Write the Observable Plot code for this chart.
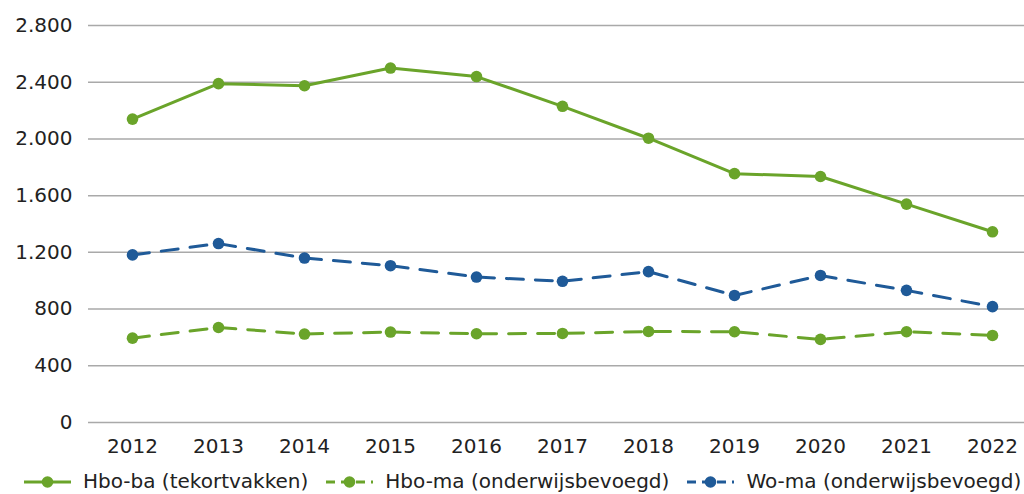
<!DOCTYPE html>
<html>
<head>
<meta charset="utf-8">
<script src="https://cdn.jsdelivr.net/npm/d3@7"></script>
<script src="https://cdn.jsdelivr.net/npm/@observablehq/plot@0.6"></script>
<style>
  body { margin: 0; background: #fff; font-family: "DejaVu Sans", Verdana, sans-serif; }
  #wrap { position: relative; width: 1024px; height: 494px; }
  #legend { position: absolute; left: 24px; top: 469px; display: flex; align-items: center; font-size: 20px; line-height: 24px; color: #222; white-space: nowrap; }
  .item { display: flex; align-items: center; margin-right: 18px; }
  .item svg { margin-right: 12px; }
</style>
</head>
<body>
<div id="wrap">
  <div id="chart"></div>
  <div id="legend"></div>
</div>
<script>
const years = ["2012","2013","2014","2015","2016","2017","2018","2019","2020","2021","2022"];
const hboBa = [2140, 2390, 2375, 2500, 2440, 2230, 2005, 1755, 1735, 1540, 1345];
const hboMa = [595, 670, 624, 638, 626, 628, 642, 640, 586, 640, 614];
const woMa  = [1182, 1262, 1160, 1106, 1026, 996, 1064, 896, 1037, 932, 817];
const seriesNames = ["Hbo-ba (tekortvakken)", "Hbo-ma (onderwijsbevoegd)", "Wo-ma (onderwijsbevoegd)"];
const yTicks = [0, 400, 800, 1200, 1600, 2000, 2400, 2800];

const green = "#6aa42a";
const blue = "#1f5a98";
const styles = [
  {stroke: green, dash: null},
  {stroke: green, dash: "17,12"},
  {stroke: blue, dash: "17,12"}
];

const seriesValues = [hboBa, hboMa, woMa];
const tables = seriesValues.map((vals, i) => years.map((y, j) => ({year: y, value: vals[j], series: seriesNames[i]})));

const nl = d3.formatLocale({decimal: ",", thousands: ".", grouping: [3], currency: ["€", ""]});
const fmt = nl.format(",d");

const marks = [
  Plot.ruleY(yTicks, {stroke: "#a9a9a9", strokeWidth: 1.5})
];
[2, 1, 0].forEach(i => {
  marks.push(Plot.line(tables[i], {x: "year", y: "value", stroke: styles[i].stroke, strokeWidth: 3, strokeDasharray: styles[i].dash, strokeLinejoin: "round"}));
  marks.push(Plot.dot(tables[i], {x: "year", y: "value", fill: styles[i].stroke, r: 5.8}));
});

const chart = Plot.plot({
  width: 1024,
  height: 462,
  marginTop: 25,
  marginBottom: 40,
  marginLeft: 88,
  marginRight: 0,
  style: {fontFamily: "'DejaVu Sans', Verdana, sans-serif", fontSize: "20px", color: "#222", background: "#fff"},
  x: {type: "point", domain: years, range: [130.3, 993.3], padding: 0, label: null, tickSize: 0, tickPadding: 16},
  y: {domain: [0, 2800], ticks: yTicks, tickFormat: fmt, label: null, tickSize: 0, tickPadding: 16},
  marks
});
document.getElementById("chart").appendChild(chart);

const legend = document.getElementById("legend");
seriesNames.forEach((name, i) => {
  const item = document.createElement("div");
  item.className = "item";
  const dash = styles[i].dash ? `stroke-dasharray="9,6"` : "";
  item.innerHTML = `<svg width="47" height="24"><line x1="0" x2="47" y1="13" y2="13" stroke="${styles[i].stroke}" stroke-width="3" ${dash}/><circle cx="23.5" cy="13" r="5.8" fill="${styles[i].stroke}"/></svg><span>${name}</span>`;
  legend.appendChild(item);
});
</script>
</body>
</html>
